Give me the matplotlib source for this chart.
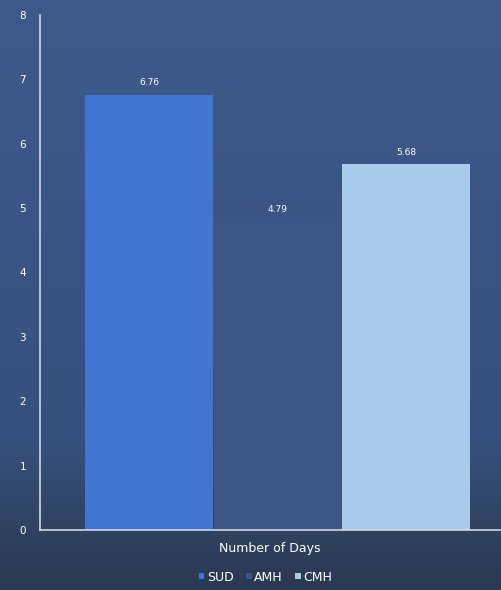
import matplotlib
matplotlib.use("Agg")
import matplotlib.pyplot as plt
import numpy as np
from matplotlib.colors import LinearSegmentedColormap
from matplotlib.patches import Patch

categories = ["Number of Days"]
series_names = ["SUD", "AMH", "CMH"]
series_values = [6.76, 4.79, 5.68]
value_labels = ["6.76", "4.79", "5.68"]
series_colors = ["#4275d2", "#3b5687", "#a8cbea"]
yticks = [0, 1, 2, 3, 4, 5, 6, 7, 8]

fig = plt.figure(figsize=(5.01, 5.9), dpi=100)

# background gradient
bg = fig.add_axes([0, 0, 1, 1], zorder=-10)
cmap = LinearSegmentedColormap.from_list(
    "bg", [(0.0, "#2b3853"), (0.1, "#30425f"), (0.25, "#36507d"), (0.6, "#3a5585"), (1.0, "#3d5a8b")])
grad = np.linspace(0, 1, 256).reshape(-1, 1)
bg.imshow(grad, aspect="auto", cmap=cmap, origin="lower", extent=[0, 1, 0, 1])
bg.axis("off")

ax = fig.add_axes([0.08, 0.1017, 0.918, 0.873])
ax.set_facecolor("none")

width = 1.0
positions = np.array([-1, 0, 1]) * width
for pos, val, col, lab in zip(positions, series_values, series_colors, value_labels):
    ax.bar(pos, val, width=width * 0.995, color=col, zorder=2)
    ax.text(pos, val + 0.12, lab, ha="center", va="bottom", color="white", fontsize=6.5)

ax.set_ylim(0, 8)
ax.set_xlim(-1.85, 1.73)
ax.set_yticks(yticks)
ax.set_yticklabels([str(t) for t in yticks], color="white", fontsize=7.5)
ax.set_xticks([])
ax.tick_params(axis="y", length=0, pad=10)
for s in ["top", "right"]:
    ax.spines[s].set_visible(False)
for s in ["left", "bottom"]:
    ax.spines[s].set_color("#d0d8e6")
    ax.spines[s].set_linewidth(1.2)
ax.spines["left"].set_bounds(0, 8)

ax.set_xlabel(categories[0], color="white", fontsize=9, labelpad=9)

handles = [Patch(facecolor=c, edgecolor="none") for c in series_colors]
leg = fig.legend(handles, series_names, loc="center", bbox_to_anchor=(0.53, 0.022),
                 ncol=3, frameon=False, fontsize=9, handlelength=0.45, handleheight=0.45,
                 handletextpad=0.2, columnspacing=1.0, labelcolor="white")

fig.savefig("out.png", dpi=100, facecolor=fig.get_facecolor())
